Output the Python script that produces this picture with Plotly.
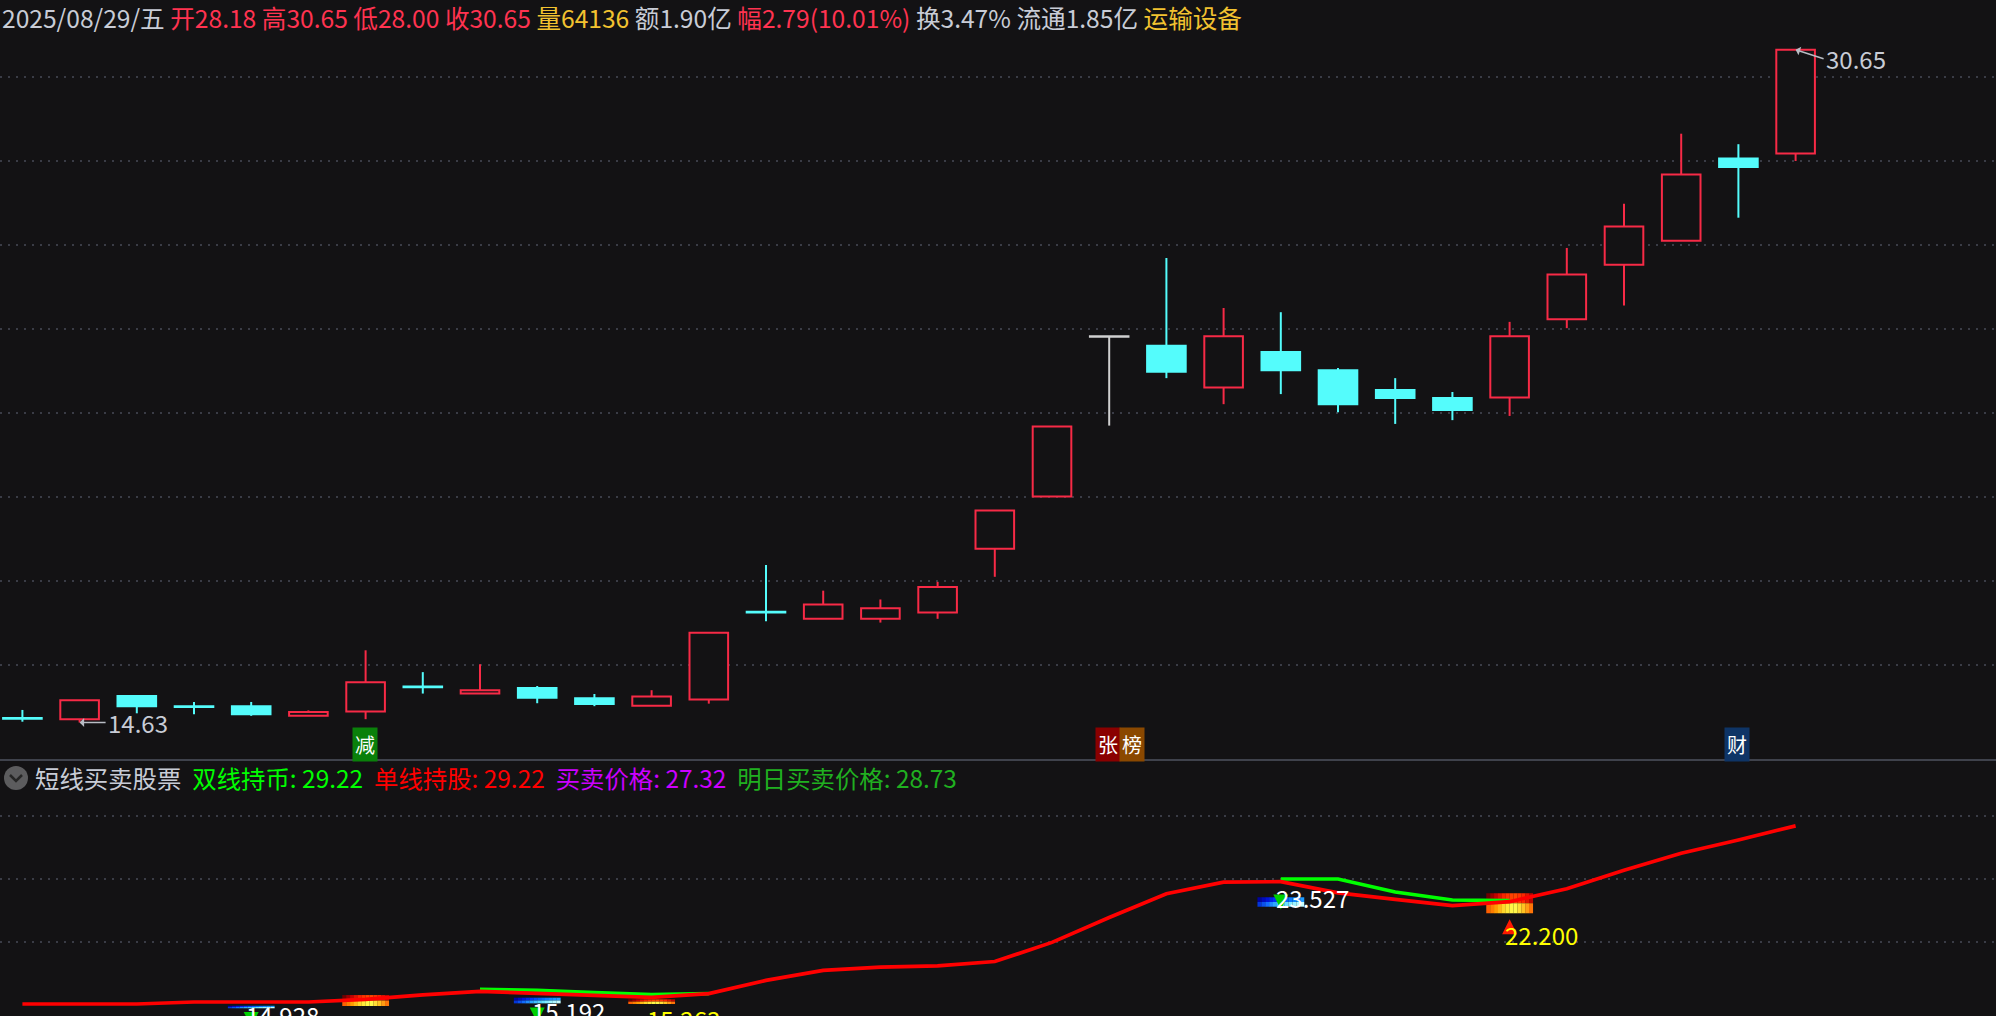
import plotly.graph_objects as go

# ---------------- data ----------------
opens = [14.74, 14.71, 15.26, 15.02, 15.02, 14.79, 14.89, 15.49, 15.32, 15.45, 15.21, 15.03, 15.18, 17.27, 17.10, 17.10,
         17.25, 18.77, 20.01, 23.82, 23.60, 22.61, 23.45, 23.02, 22.55, 22.36, 22.37, 24.23, 25.53, 26.10, 28.06, 28.18]
highs = [14.93, 15.16, 15.26, 15.12, 15.12, 14.92, 16.35, 15.83, 16.02, 15.50, 15.31, 15.40, 16.77, 18.38, 17.77, 17.56,
         17.98, 19.68, 21.68, 23.82, 25.69, 24.50, 24.40, 23.07, 22.83, 22.50, 24.17, 25.93, 26.98, 28.65, 28.40, 30.65]
lows = [14.65, 14.63, 14.85, 14.83, 14.79, 14.79, 14.71, 15.32, 15.32, 15.09, 15.02, 15.03, 15.08, 17.04, 17.10, 17.01,
        17.10, 18.10, 20.01, 21.70, 22.83, 22.21, 22.45, 22.02, 21.74, 21.83, 21.93, 24.02, 24.56, 26.10, 26.65, 28.00]
closes = [14.72, 15.16, 15.02, 15.00, 14.83, 14.88, 15.59, 15.47, 15.40, 15.22, 15.07, 15.25, 16.77, 17.25, 17.44, 17.35,
          17.86, 19.68, 21.68, 23.82, 22.98, 23.83, 23.02, 22.21, 22.36, 22.07, 23.83, 25.30, 26.44, 27.68, 27.86, 30.65]

# indicator lines (短线买卖股票)
single_line = [15.08, 15.08, 15.08, 15.24, 15.24, 15.24, 15.44, 15.80, 16.08, 15.90, 15.79, 15.61, 15.90, 16.95, 17.75, 18.00,
               18.10, 18.45, 19.97, 21.95, 23.83, 24.75, 24.79, 23.90, 23.39, 22.88, 23.20, 24.23, 25.70, 27.05, 28.10, 29.22]
double_line = [None, None, None, None, None, None, None, None, 16.25, 16.17, 15.98, 15.82, 15.90, None, None, None,
               None, None, None, None, None, None, 25.00, 25.00, 23.97, 23.33, 23.28, None, None, None, None, None]

# signals
sell_idx = [4, 9, 22]
sell_val = [14.928, 15.192, 23.527]
sell_bar_lo = [14.74, 15.13, 22.80]
sell_bar_hi = [14.94, 15.58, 23.55]
buy_idx = [6, 11, 26]
buy_val = [None, 15.263, 22.200]
buy_bar_lo = [14.92, 15.08, 22.28]
buy_bar_hi = [15.79, 15.45, 23.87]

# event tags on price panel
event_idx = [6, 19, 30]
event_text = ["减", "张榜", "财"]

# header info
date_label = "2025/08/29/五"
volume = 64136
amount = "1.90亿"
turnover = 3.47
float_cap = "1.85亿"
sector = "运输设备"
ind_names = ["双线持币", "单线持股", "买卖价格", "明日买卖价格"]
ind_values = [29.22, 29.22, 27.32, 28.73]
ind_title = "短线买卖股票"

price_grid = [16, 18, 20, 22, 24, 26, 28, 30]
ind_grid = [20, 25, 30]

# ---------------- styles / geometry ----------------
W, H = 1996, 1016
BG = "#131214"
UP = "#f72a46"
DOWN = "#54fcfc"
FLAT = "#d0d0d0"
GRID = "#3a3c46"
RED_TXT = "#ff3350"
GOLD = "#f2c230"
GRAY_TXT = "#c8ccd6"
FONT = "Noto Sans CJK SC, Noto Sans, sans-serif"


def pdom(py):
    return (H - py) / H


def top_val(py):
    return 30 - (py - 77) / 42.0


def bot_val(py):
    return 30 - (py - 816) / 12.6


def xi(px):
    return (px - 22.4) / 57.2


BODY_W = 0.675
n = len(closes)
idx = list(range(n))

fig = go.Figure()

# ---- wicks ----
groups = {"up": ([], [], UP), "dn": ([], [], DOWN), "fl": ([], [], FLAT)}
for i in idx:
    o, h, l, c = opens[i], highs[i], lows[i], closes[i]
    key = "up" if c > o else ("dn" if c < o else "fl")
    xs, ys, _ = groups[key]
    top, bot = max(o, c), min(o, c)
    if h > top:
        xs += [i, i, None]
        ys += [top, h, None]
    if l < bot:
        xs += [i, i, None]
        ys += [l, bot, None]
for key, (xs, ys, col) in groups.items():
    if xs:
        fig.add_trace(go.Scatter(x=xs, y=ys, mode="lines", line=dict(color=col, width=2),
                                 hoverinfo="skip", xaxis="x", yaxis="y"))

# ---- bodies ----
up_i = [i for i in idx if closes[i] > opens[i]]
dn_i = [i for i in idx if closes[i] < opens[i]]
fl_i = [i for i in idx if closes[i] == opens[i]]
fig.add_trace(go.Bar(x=up_i, base=[opens[i] for i in up_i], y=[closes[i] - opens[i] for i in up_i],
                     width=BODY_W, marker=dict(color=BG, line=dict(color=UP, width=2)),
                     hoverinfo="skip", xaxis="x", yaxis="y"))
fig.add_trace(go.Bar(x=dn_i, base=[closes[i] for i in dn_i], y=[opens[i] - closes[i] for i in dn_i],
                     width=BODY_W, marker=dict(color=DOWN, line=dict(color=DOWN, width=2)),
                     hoverinfo="skip", xaxis="x", yaxis="y"))
fx, fy = [], []
for i in fl_i:
    fx += [i - BODY_W / 2 - 0.017, i + BODY_W / 2 + 0.017, None]
    fy += [opens[i], opens[i], None]
if fx:
    fig.add_trace(go.Scatter(x=fx, y=fy, mode="lines", line=dict(color=FLAT, width=2.5),
                             hoverinfo="skip", xaxis="x", yaxis="y"))

# ---- indicator lines ----
fig.add_trace(go.Scatter(x=idx, y=double_line, mode="lines", line=dict(color="#00ff00", width=3.6),
                         connectgaps=False, hoverinfo="skip", xaxis="x2", yaxis="y2"))
fig.add_trace(go.Scatter(x=idx, y=single_line, mode="lines", line=dict(color="#ff0000", width=3.7),
                         hoverinfo="skip", xaxis="x2", yaxis="y2"))

shapes = []
annotations = []


# ---- gradient signal bars ----
def hex2rgb(hx):
    return tuple(int(hx[k:k + 2], 16) for k in (1, 3, 5))


def grad(stops, t):
    m = len(stops) - 1
    k = min(int(t * m), m - 1)
    f = t * m - k
    a, b = hex2rgb(stops[k]), hex2rgb(stops[k + 1])
    return "rgb(%d,%d,%d)" % tuple(round(a[j] + (b[j] - a[j]) * f) for j in range(3))


BUY_TOP = ["#5a0000", "#c00000", "#ff2a00", "#ff4a00", "#ff2400", "#a80000"]
BUY_BOT = ["#ff5000", "#ff9800", "#ffe030", "#ffff50", "#ffc020", "#ff6000"]
SELL_TOP = ["#000090", "#0010d8", "#0038ff", "#0064ff", "#1088ff", "#20a0ff"]
SELL_BOT = ["#0028d0", "#1068ff", "#30b0ff", "#60e0ff", "#a0f4ff", "#d0ffff"]
NCOL = 12
HALF = 0.408


def gradient_bar(i, lo, hi, top_stops, bot_stops):
    mid = (lo + hi) / 2
    w = 2 * HALF / NCOL
    for k in range(NCOL):
        t = (k + 0.5) / NCOL
        x0 = i - HALF + k * w
        for (y0, y1, stops) in ((mid, hi, top_stops), (lo, mid, bot_stops)):
            col = grad(stops, t)
            shapes.append(dict(type="rect", xref="x2", yref="y2", x0=x0, x1=x0 + w + 0.002, y0=y0, y1=y1,
                               fillcolor=col, line=dict(width=0), layer="between"))


for i, lo, hi in zip(sell_idx, sell_bar_lo, sell_bar_hi):
    gradient_bar(i, lo, hi, SELL_TOP, SELL_BOT)
for i, lo, hi in zip(buy_idx, buy_bar_lo, buy_bar_hi):
    gradient_bar(i, lo, hi, BUY_TOP, BUY_BOT)

# ---- signal arrows and labels ----
SELL_SHIFT = [-9, -8, 0]
BUY_SHIFT = [-18, -17, -20]
for i, v, s in zip(sell_idx, sell_val, SELL_SHIFT):
    annotations.append(dict(x=i, y=v, xref="x2", yref="y2", text=" ", showarrow=True, ax=0, ay=-23,
                            axref="pixel", ayref="pixel", yshift=s - 12, arrowhead=2, arrowsize=1,
                            arrowwidth=3, arrowcolor="#00d000", standoff=0))
for i, lo in zip(buy_idx, buy_bar_lo):
    annotations.append(dict(x=i, y=lo, xref="x2", yref="y2", text=" ", showarrow=True, ax=0, ay=23,
                            axref="pixel", ayref="pixel", yshift=-6, arrowhead=2, arrowsize=1,
                            arrowwidth=3, arrowcolor="#ff1a00", standoff=0))
for i, v, s in zip(sell_idx, sell_val, SELL_SHIFT):
    annotations.append(dict(x=i, y=v, xref="x2", yref="y2", text=f"{v:.3f}", showarrow=False,
                            xanchor="left", yanchor="middle", xshift=-7, yshift=s,
                            font=dict(family=FONT, size=24, color="#ffffff")))
for i, v, s in zip(buy_idx, buy_val, BUY_SHIFT):
    if v is None:
        continue
    annotations.append(dict(x=i, y=v, xref="x2", yref="y2", text=f"{v:.3f}", showarrow=False,
                            xanchor="left", yanchor="middle", xshift=-7, yshift=s,
                            font=dict(family=FONT, size=24, color="#ffff00")))

# ---- high / low markers ----
hi_i = max(idx, key=lambda k: highs[k])
lo_i = min(idx, key=lambda k: lows[k])
annotations.append(dict(x=hi_i, y=highs[hi_i], xref="x", yref="y", text=f"{highs[hi_i]:.2f}", showarrow=True,
                        ax=28, ay=9, axref="pixel", ayref="pixel", xanchor="left", yanchor="middle",
                        arrowhead=1, arrowsize=1, arrowwidth=1.5, arrowcolor="#b8bcc4", standoff=0,
                        font=dict(family=FONT, size=24, color=GRAY_TXT)))
annotations.append(dict(x=lo_i, y=lows[lo_i], xref="x", yref="y", text=f"{lows[lo_i]:.2f}", showarrow=True,
                        ax=26, ay=0, axref="pixel", ayref="pixel", xanchor="left", yanchor="middle",
                        arrowhead=1, arrowsize=1, arrowwidth=1.5, arrowcolor="#b8bcc4", standoff=0,
                        font=dict(family=FONT, size=24, color=GRAY_TXT)))

# ---- event tags ----
TAG_BG = {"减": "#0a800a", "张": "#8a0000", "榜": "#8a4800", "财": "#0e3466"}
for i, txt in zip(event_idx, event_text):
    for k, ch in enumerate(txt):
        annotations.append(dict(x=i, y=0, xref="x", yref="y domain", text=ch, showarrow=False,
                                xanchor="center", yanchor="bottom", xshift=k * 24 - 1, yshift=-2,
                                bgcolor=TAG_BG.get(ch, "#333"), borderpad=2,
                                font=dict(family=FONT, size=20, color="#ffffff")))

# ---- header ----
prev_close = closes[-2]
chg = closes[-1] - prev_close
pct = chg / prev_close * 100
head_parts = [
    (date_label, GRAY_TXT),
    (f"开{opens[-1]:.2f}", RED_TXT),
    (f"高{highs[-1]:.2f}", RED_TXT),
    (f"低{lows[-1]:.2f}", RED_TXT),
    (f"收{closes[-1]:.2f}", RED_TXT),
    (f"量{volume}", GOLD),
    (f"额{amount}", GRAY_TXT),
    (f"幅{chg:.2f}({pct:.2f}%)", RED_TXT),
    (f"换{turnover:.2f}%", GRAY_TXT),
    (f"流通{float_cap}", GRAY_TXT),
    (sector, GOLD),
]
head_html = " ".join(f"<span style='color:{c}'>{t}</span>" for t, c in head_parts)
annotations.append(dict(x=0 / W, y=pdom(17), xref="paper", yref="paper", text=head_html, showarrow=False,
                        xanchor="left", yanchor="middle", font=dict(family=FONT, size=24.6, color=GRAY_TXT)))

ind_colors = ["#00ff00", "#ff0000", "#cc00ff", "#20b020"]
ind_html = f"<span style='color:#c8ccd6'>{ind_title}</span>"
for name, val, col in zip(ind_names, ind_values, ind_colors):
    ind_html += f"&nbsp;&nbsp;<span style='color:{col}'>{name}: {val:.2f}</span>"
annotations.append(dict(x=33 / W, y=pdom(777), xref="paper", yref="paper", text=ind_html, showarrow=False,
                        xanchor="left", yanchor="middle", font=dict(family=FONT, size=24.4, color=GRAY_TXT)))

# icon circle + chevron
shapes.append(dict(type="circle", xref="paper", yref="paper", x0=4 / W, x1=28 / W, y0=pdom(790), y1=pdom(766),
                   fillcolor="#5c5c5e", line=dict(width=0), layer="above"))
shapes.append(dict(type="path", xref="paper", yref="paper",
                   path=f"M{10 / W},{pdom(775)} L{16 / W},{pdom(781)} L{22 / W},{pdom(775)}",
                   line=dict(color="#262626", width=2.5), layer="above"))

# separator between panels
shapes.append(dict(type="line", xref="paper", yref="paper", x0=0, x1=1, y0=pdom(760), y1=pdom(760),
                   line=dict(color="#3f424c", width=2), layer="above"))

axis_common = dict(showline=False, zeroline=False, showticklabels=False, ticks="")
fig.update_layout(
    width=W, height=H,
    paper_bgcolor=BG, plot_bgcolor=BG,
    margin=dict(l=0, r=0, t=0, b=0),
    showlegend=False,
    barmode="overlay",
    font=dict(family=FONT),
    xaxis=dict(domain=[0, 1], range=[xi(0), xi(W)], showgrid=False, anchor="y", **axis_common),
    yaxis=dict(domain=[pdom(760), pdom(28)], range=[top_val(760), top_val(28)], anchor="x",
               tickvals=price_grid, showgrid=True, gridcolor=GRID, gridwidth=2, griddash="2px,6px",
               **axis_common),
    xaxis2=dict(domain=[0, 1], range=[xi(0), xi(W)], showgrid=False, anchor="y2", **axis_common),
    yaxis2=dict(domain=[0, pdom(790)], range=[bot_val(1016), bot_val(790)], anchor="x2",
                tickvals=ind_grid, showgrid=True, gridcolor=GRID, gridwidth=2, griddash="2px,6px",
                **axis_common),
    shapes=shapes,
    annotations=annotations,
    hovermode=False,
)

fig.write_html(
    "out.html",
    config={"displayModeBar": False},
    post_script="document.body.style.margin='0';document.body.style.overflow='hidden';"
                "document.body.style.background='" + BG + "';",
)
